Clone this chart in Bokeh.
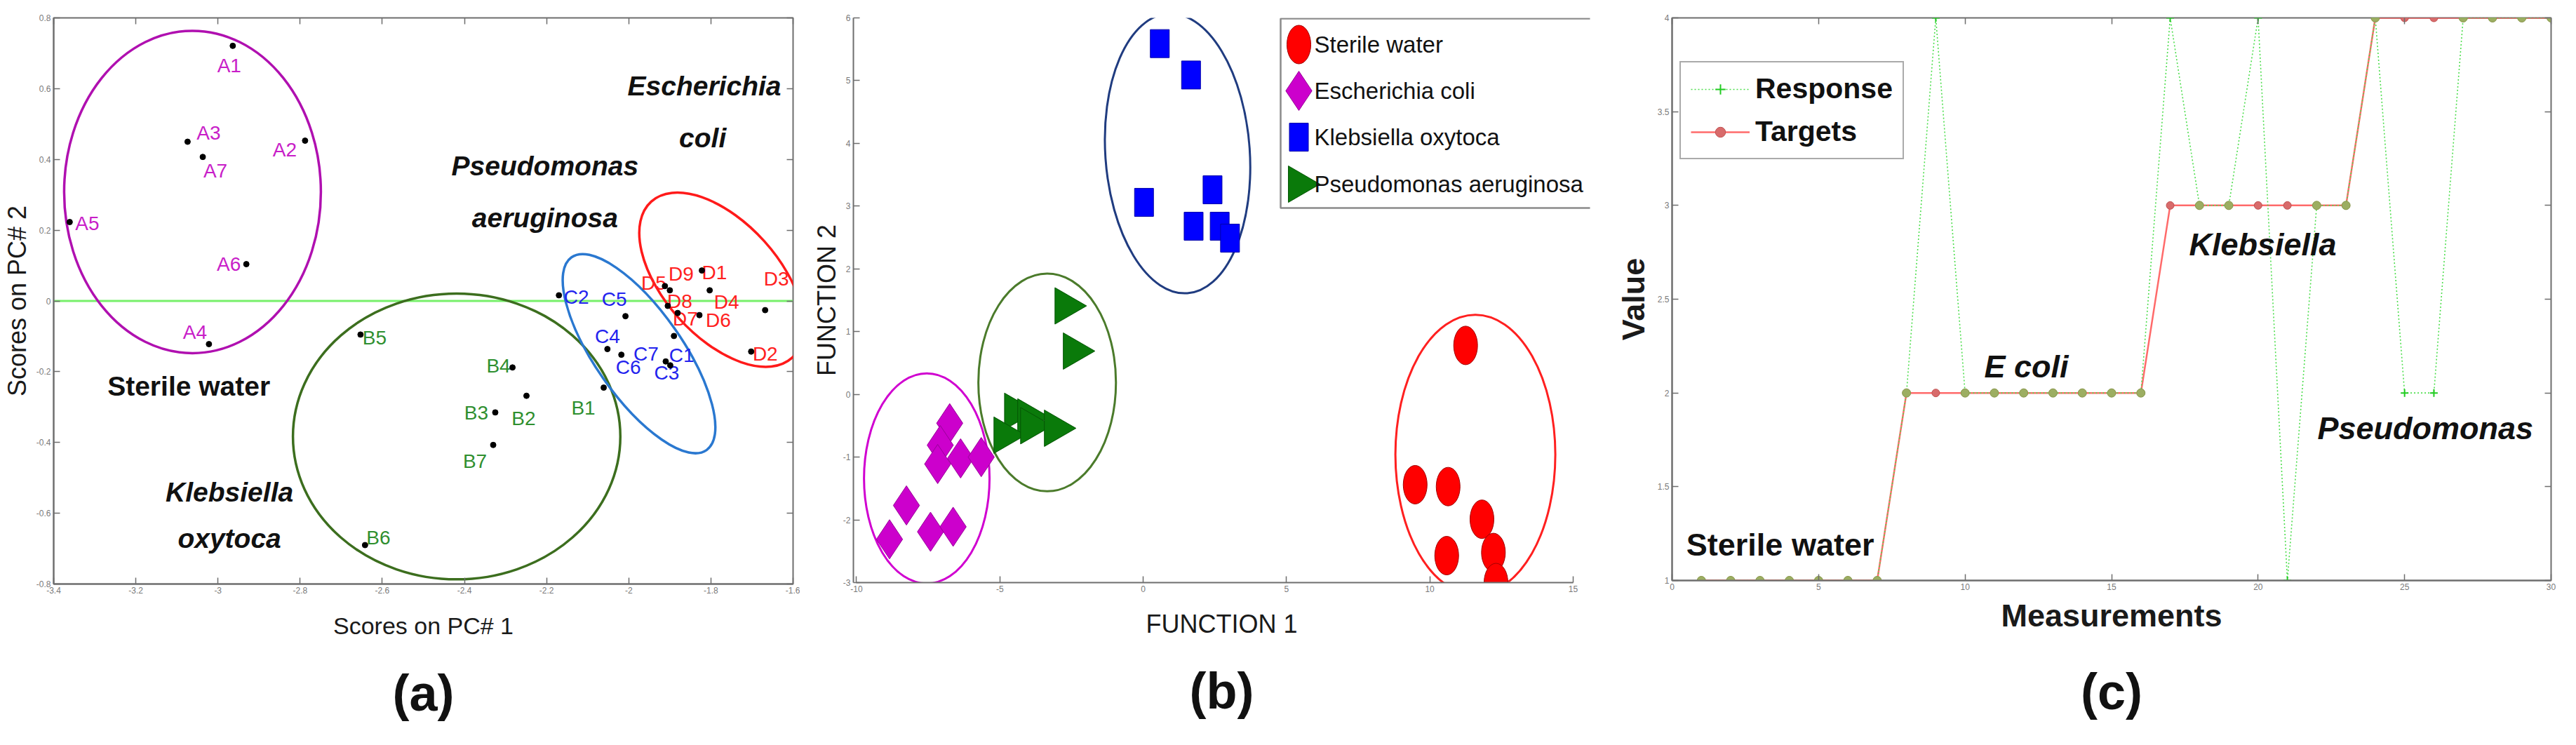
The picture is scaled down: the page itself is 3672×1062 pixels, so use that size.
import math
from bokeh.plotting import figure
from bokeh.models import (Range1d, LinearAxis, Span, Label, Title, CustomJSTickFormatter,
                          FixedTicker, Legend, LegendItem, ColumnDataSource)
from bokeh.layouts import row
from bokeh.core.properties import value
from bokeh.embed import file_html
from bokeh.resources import INLINE

FONT = "Liberation Sans, Arial, sans-serif"

# ---------------- (a) PCA scores ----------------
a_labels = ["A1", "A2", "A3", "A4", "A5", "A6", "A7"]
a_pc1 = [-2.964, -2.788, -3.074, -3.022, -3.361, -2.931, -3.037]
a_pc2 = [0.721, 0.453, 0.450, -0.122, 0.223, 0.104, 0.407]
b_labels = ["B1", "B2", "B3", "B4", "B5", "B6", "B7"]
b_pc1 = [-2.061, -2.249, -2.325, -2.283, -2.653, -2.642, -2.330]
b_pc2 = [-0.245, -0.268, -0.315, -0.188, -0.095, -0.690, -0.407]
c_labels = ["C1", "C2", "C3", "C4", "C5", "C6", "C7"]
c_pc1 = [-1.890, -2.170, -1.899, -2.052, -2.008, -2.018, -1.910]
c_pc2 = [-0.099, 0.016, -0.182, -0.136, -0.043, -0.152, -0.171]
d_labels = ["D1", "D2", "D3", "D4", "D5", "D6", "D7", "D8", "D9"]
d_pc1 = [-1.822, -1.702, -1.668, -1.803, -1.912, -1.828, -1.881, -1.905, -1.900]
d_pc2 = [0.086, -0.143, -0.026, 0.030, 0.042, -0.040, -0.034, -0.014, 0.030]

# label placement (screen px offsets, layout only)
a_off = [(-5, 28), (-29, 13), (30, -13), (-20, -17), (25, 2), (-25, 0), (18, 20)]
b_off = [(-29, 29), (-4, 32), (-27, 1), (-20, -2), (20, 5), (19, -11), (-26, 23)]
c_off = [(11, 28), (25, 3), (-5, 11), (0, -18), (-16, -24), (10, 18), (-28, -11)]
d_off = [(18, 3), (20, 3), (16, -45), (24, 17), (-16, -4), (27, 7), (11, 8), (17, -7), (16, -23)]

# cluster ellipses in panel (a)
ell_a_cx = [-3.062, -2.419, -1.975, -1.774]
ell_a_cy = [0.308, -0.383, -0.149, 0.060]
ell_a_w = [0.625, 0.797, 0.573, 0.512]
ell_a_h = [0.911, 0.808, 0.246, 0.325]
ell_a_deg = [0, 0, -55, -48]

ann_a_text = ["Escherichia", "coli", "Pseudomonas", "aeruginosa", "Sterile water", "Klebsiella", "oxytoca"]
ann_a_x = [-1.816, -1.820, -2.204, -2.204, -3.071, -2.972, -2.972]
ann_a_y = [0.607, 0.460, 0.381, 0.234, -0.240, -0.540, -0.671]

pc1_ticks = [-3.4, -3.2, -3.0, -2.8, -2.6, -2.4, -2.2, -2.0, -1.8, -1.6]
pc2_ticks = [-0.8, -0.6, -0.4, -0.2, 0.0, 0.2, 0.4, 0.6, 0.8]

# ---------------- (b) discriminant functions ----------------
sterile_f1 = [11.25, 9.49, 10.64, 11.82, 10.59, 12.22, 12.31]
sterile_f2 = [0.78, -1.44, -1.47, -1.99, -2.57, -2.52, -3.00]
ecoli_f1 = [-6.75, -7.08, -6.37, -7.17, -5.65, -8.26, -8.85, -7.42, -6.63]
ecoli_f2 = [-0.46, -0.81, -1.02, -1.11, -1.00, -1.77, -2.31, -2.19, -2.11]
kleb_f1 = [0.58, 1.67, 0.03, 1.76, 2.42, 2.67, 3.03]
kleb_f2 = [5.59, 5.09, 3.06, 2.68, 3.26, 2.68, 2.49]
pseudo_f1 = [-2.71, -2.42, -4.47, -4.01, -4.84, -3.91, -3.08]
pseudo_f2 = [1.41, 0.69, -0.27, -0.36, -0.65, -0.50, -0.54]

ell_b_cx = [11.59, -7.55, 1.20, -3.35]
ell_b_cy = [-0.96, -1.34, 3.84, 0.19]
ell_b_w = [5.58, 4.38, 5.04, 4.80]
ell_b_h = [4.46, 3.35, 4.47, 3.47]
ell_b_deg = [0, 0, 4, 0]

legend_b_labels = ["Sterile water", "Escherichia coli", "Klebsiella oxytoca", "Pseudomonas aeruginosa"]
f1_ticks = [-10, -5, 0, 5, 10, 15]
f2_ticks = [-3, -2, -1, 0, 1, 2, 3, 4, 5, 6]

# ---------------- (c) network output ----------------
measurements = list(range(1, 31))
targets = [1, 1, 1, 1, 1, 1, 1, 2, 2, 2, 2, 2, 2, 2, 2, 2, 3, 3, 3, 3, 3, 3, 3, 4, 4, 4, 4, 4, 4, 4]
response = [1, 1, 1, 1, 1, 1, 1, 2, 4, 2, 2, 2, 2, 2, 2, 2, 4, 3, 3, 4, 1, 3, 3, 4, 2, 2, 4, 4, 4, 4]
meas_ticks = [0, 5, 10, 15, 20, 25, 30]
value_ticks = [1, 1.5, 2, 2.5, 3, 3.5, 4]
ann_c_text = ["Sterile water", "E coli", "Klebsiella", "Pseudomonas"]
ann_c_x = [3.69, 12.09, 20.16, 25.71]
ann_c_y = [1.19, 2.14, 2.79, 1.81]

AX = "#6e6e6e"
FMT = CustomJSTickFormatter(code="return (Math.round(tick*10)/10).toString();")


def style_axis(ax, ticks):
    ax.ticker = FixedTicker(ticks=ticks)
    ax.formatter = FMT
    ax.major_tick_in = 9
    ax.major_tick_out = 0
    ax.minor_tick_line_color = None
    ax.axis_line_color = AX
    ax.axis_line_width = 2
    ax.major_tick_line_color = AX
    ax.major_tick_line_width = 1.5
    ax.major_label_text_font = FONT
    ax.major_label_text_font_size = "12px"
    ax.major_label_text_color = "#7a7a7a"
    ax.major_label_standoff = 4


def label_axis(ax, text, size, style, standoff):
    ax.axis_label = text
    ax.axis_label_text_font = FONT
    ax.axis_label_text_font_style = style
    ax.axis_label_text_font_size = size
    ax.axis_label_text_color = "#1a1a1a"
    ax.axis_label_standoff = standoff


def box_axes(p, xt, yt):
    for loc, t in (("above", xt), ("right", yt)):
        ax = LinearAxis()
        style_axis(ax, t)
        ax.major_label_text_font_size = "1px"
        ax.major_label_text_color = None
        ax.major_label_standoff = 0
        ax.axis_line_color = None
        p.add_layout(ax, loc)


def panel_title(p, text, standoff):
    p.add_layout(Title(text=text, align="center", text_font=FONT, text_font_style="bold",
                       text_font_size="72px", text_color="#111111", standoff=standoff), "below")


def base_fig(fw, fh, xr, yr, bl, br, bt, bb):
    p = figure(frame_width=fw, frame_height=fh, x_range=xr, y_range=yr,
               min_border_left=bl, min_border_right=br, min_border_top=bt, min_border_bottom=bb,
               output_backend="svg", toolbar_location=None)
    p.xgrid.grid_line_color = None
    p.ygrid.grid_line_color = None
    p.background_fill_color = "white"
    p.border_fill_color = "white"
    return p


# ======== panel (a) ========
pa = base_fig(1054, 807, Range1d(-3.4, -1.6), Range1d(-0.8, 0.8), 74, 10, 25, 214)
xa, ya = pa.xaxis[0], pa.yaxis[0]
style_axis(xa, pc1_ticks)
style_axis(ya, pc2_ticks)
label_axis(xa, "Scores on PC# 1", "34px", "normal", 24)
label_axis(ya, "Scores on PC# 2", "36px", "normal", 4)
box_axes(pa, pc1_ticks, pc2_ticks)
pa.outline_line_color = AX
pa.outline_line_width = 2

pa.add_layout(Span(location=0, dimension="width", line_color="#77f06a", line_width=3, level="underlay"))

ell_src_a = ColumnDataSource(dict(x=ell_a_cx, y=ell_a_cy, w=ell_a_w, h=ell_a_h,
                                  ang=[math.radians(d) for d in ell_a_deg],
                                  c=["#b010b0", "#3c6e1e", "#2a78d0", "#ff1a1a"]))
pa.ellipse(x="x", y="y", width="w", height="h", angle="ang", source=ell_src_a,
           fill_color=None, line_color="c", line_width=3.5)

for labs, xs, ys, offs, col in ((a_labels, a_pc1, a_pc2, a_off, "#c81ec8"),
                                (b_labels, b_pc1, b_pc2, b_off, "#2f8f2f"),
                                (c_labels, c_pc1, c_pc2, c_off, "#2323ee"),
                                (d_labels, d_pc1, d_pc2, d_off, "#ff2020")):
    src = ColumnDataSource(dict(x=xs, y=ys, t=labs, dx=[o[0] for o in offs], dy=[o[1] for o in offs]))
    pa.text(x="x", y="y", text="t", x_offset="dx", y_offset="dy", source=src,
            text_color=col, text_font=value(FONT), text_font_size="28px",
            text_align="center", text_baseline="middle")
    pa.scatter(xs, ys, size=8, color="black")

for i, t in enumerate(ann_a_text):
    pa.add_layout(Label(x=ann_a_x[i], y=ann_a_y[i], text=t, text_font=FONT,
                        text_font_style="bold" if t == "Sterile water" else "bold italic",
                        text_font_size="39px", text_color="#111111",
                        text_align="center", text_baseline="middle"))

panel_title(pa, "(a)", 64)

# ======== panel (b) ========
pb = base_fig(1050, 805, Range1d(-10.11, 15.59), Range1d(-3, 6), 76, 4, 22, 219)
xb, yb = pb.xaxis[0], pb.yaxis[0]
style_axis(xb, f1_ticks)
style_axis(yb, f2_ticks)
xb.bounds = (-10, 15)
yb.bounds = (-3, 6)
pb.outline_line_color = None
label_axis(xb, "FUNCTION 1", "36px", "normal", 22)
label_axis(yb, "FUNCTION 2", "36px", "normal", 0)

ell_src_b = ColumnDataSource(dict(x=ell_b_cx, y=ell_b_cy, w=ell_b_w, h=ell_b_h,
                                  ang=[math.radians(d) for d in ell_b_deg],
                                  c=["#ff2020", "#d000d0", "#203c80", "#4b7b2b"]))
pb.ellipse(x="x", y="y", width="w", height="h", angle="ang", source=ell_src_b,
           fill_color=None, line_color="c", line_width=3)

pb.ellipse(sterile_f1, sterile_f2, width=34, height=55, width_units="screen", height_units="screen",
           fill_color="#ff0000", line_color="#a00000", line_width=1)
pb.scatter(ecoli_f1, ecoli_f2, marker="diamond", size=56, fill_color="#cc00cc", line_color="#990099", line_width=1)
pb.rect(kleb_f1, kleb_f2, width=27, height=40, width_units="screen", height_units="screen",
        fill_color="#0000ff", line_color="#0000aa", line_width=1)
pb.scatter(pseudo_f1, pseudo_f2, marker="triangle", angle=-math.pi / 2, size=52,
           fill_color="#0a7a0a", line_color="#055505", line_width=1)

# legend of panel (b), drawn in a pixel coordinate system of the frame
pb.extra_x_ranges = {"lx": Range1d(0, 1050)}
pb.extra_y_ranges = {"ly": Range1d(805, 0)}
leg_rows = [38, 104, 170, 237]
pb.quad(left=[609], right=[1070], top=[1], bottom=[271], x_range_name="lx", y_range_name="ly",
        fill_color="white", line_color="#8a8a8a", line_width=2.5)
pb.ellipse([635], [leg_rows[0]], width=34, height=55, width_units="screen", height_units="screen",
           fill_color="#ff0000", line_color="#a00000", x_range_name="lx", y_range_name="ly")
pb.scatter([635], [leg_rows[1]], marker="diamond", size=56, fill_color="#cc00cc", line_color="#990099",
           x_range_name="lx", y_range_name="ly")
pb.rect([635], [leg_rows[2]], width=27, height=40, width_units="screen", height_units="screen",
        fill_color="#0000ff", line_color="#0000aa", x_range_name="lx", y_range_name="ly")
pb.scatter([635], [leg_rows[3]], marker="triangle", angle=-math.pi / 2, size=52, fill_color="#0a7a0a",
           line_color="#055505", x_range_name="lx", y_range_name="ly")
pb.text([657] * 4, leg_rows, text=legend_b_labels, x_range_name="lx", y_range_name="ly",
        text_font=value(FONT), text_font_size="33px", text_color="#111111",
        text_align="left", text_baseline="middle")

panel_title(pb, "(b)", 60)

# ======== panel (c) ========
pc = base_fig(1253, 802, Range1d(0, 30), Range1d(1, 4), 113, 22, 10, 234)
xc, yc = pc.xaxis[0], pc.yaxis[0]
style_axis(xc, meas_ticks)
style_axis(yc, value_ticks)
label_axis(xc, "Measurements", "45px", "bold", 8)
label_axis(yc, "Value", "45px", "bold", 6)
box_axes(pc, meas_ticks, value_ticks)
pc.outline_line_color = AX
pc.outline_line_width = 2

agree_x = [m for m, r, t in zip(measurements, response, targets) if r == t]
agree_y = [t for r, t in zip(response, targets) if r == t]

tgt_line = pc.line(measurements, targets, line_color="#ff5050", line_width=2.5, line_alpha=0.85)
resp_line = pc.line(measurements, response, line_color="#4ede4e", line_width=1.6, line_dash="2 3")
tgt_marks = pc.scatter(measurements, targets, marker="circle", size=11, fill_color="#d86b6b",
                       line_color="#c05050")
resp_marks = pc.scatter(measurements, response, marker="cross", size=11, line_color="#22cc22", line_width=2)
pc.scatter(agree_x, agree_y, marker="circle", size=12, fill_color="#9cae62", line_color="#8a9c50")

for i, t in enumerate(ann_c_text):
    pc.add_layout(Label(x=ann_c_x[i], y=ann_c_y[i], text=t, text_font=FONT,
                        text_font_style="bold" if t == "Sterile water" else "bold italic",
                        text_font_size="45px", text_color="#111111",
                        text_align="center", text_baseline="middle"))

leg_c = Legend(items=[LegendItem(label="Response", renderers=[resp_line, resp_marks]),
                      LegendItem(label="Targets", renderers=[tgt_line, tgt_marks])],
               location=(11, 600), label_text_font=FONT, label_text_font_style="bold",
               label_text_font_size="41px", label_text_color="#111111",
               glyph_width=84, glyph_height=36, padding=14, spacing=14, label_standoff=8,
               border_line_color="#555555", border_line_width=2, background_fill_alpha=1,
               margin=0)
pc.add_layout(leg_c)

panel_title(pc, "(c)", 76)

layout = row(pa, pb, pc, spacing=0)
open("out.html", "w").write(file_html(layout, INLINE))
